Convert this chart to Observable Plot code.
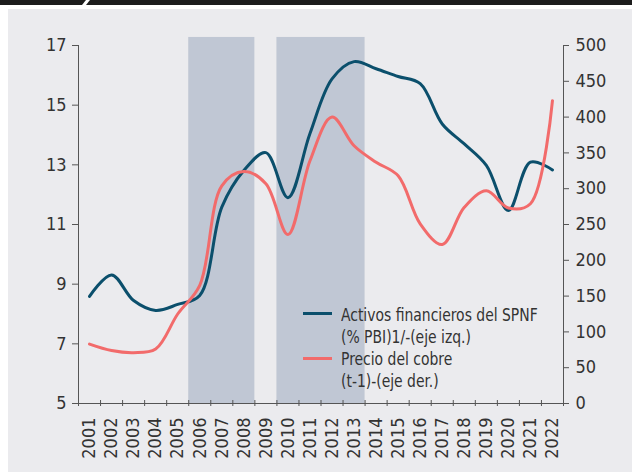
<!DOCTYPE html>
<html><head><meta charset="utf-8">
<script src="https://cdn.jsdelivr.net/npm/d3@7"></script>
<script src="https://cdn.jsdelivr.net/npm/@observablehq/plot@0.6"></script>
<style>
body{margin:0;background:#fff;width:632px;height:472px;overflow:hidden;position:relative;font-family:"Liberation Sans Narrow","DejaVu Sans Condensed","Roboto",sans-serif;}
.blk{position:absolute;top:0;height:5px;background:#1c1c1c}
#barL{left:0;width:86px;clip-path:polygon(0 0,86px 0,82px 5px,0 5px)}
#barR{left:86px;width:546px;clip-path:polygon(4px 0,100% 0,100% 100%,0 100%)}
#panel{position:absolute;left:8px;top:9px;width:624px;height:463px;background:#ebebee}
.sw{position:absolute;left:303px;width:29px;height:3px;z-index:2}
.lt{position:absolute;left:341px;font-size:18px;line-height:22px;color:#333;white-space:nowrap;z-index:2;transform:scaleX(0.86);transform-origin:0 0}
</style></head>
<body>
<div id="barL" class="blk"></div><div id="barR" class="blk"></div>
<div id="panel"></div>
<div class="sw" style="top:312px;background:#0b4f6c"></div>
<div class="lt" style="top:304px">Activos financieros del SPNF<br>(% PBI)1/-(eje izq.)</div>
<div class="sw" style="top:357px;background:#f26b6b"></div>
<div class="lt" style="top:348px">Precio del cobre<br>(t-1)-(eje der.)</div>
<script>
const years = [2001,2002,2003,2004,2005,2006,2007,2008,2009,2010,2011,2012,2013,2014,2015,2016,2017,2018,2019,2020,2021,2022];
const activos = [8.59,9.31,8.45,8.12,8.32,8.62,11.58,12.81,13.41,11.9,14.05,15.88,16.46,16.22,15.96,15.72,14.37,13.7,12.98,11.47,13.09,12.83];
const cobre = [83,74,71,76,125,165,304,324,307,236,339,400,360,337,318,251,222,274,297,273,279,423];
const shaded = [[2006,2008],[2010,2013]];
const shadeTop = 17.27;
const leftTicks = [5,7,9,11,13,15,17];
const rightTicks = [0,50,100,150,200,250,300,350,400,450,500];
const leftMin = 5, leftMax = 17, rightMax = 500;
const toLeft = v => leftMin + v * (leftMax - leftMin) / rightMax;
const table = years.map((y,i)=>({year:y, activos:activos[i], cobre:cobre[i]}));
const edges = d3.range(years[0]-0.5, years[years.length-1]+1, 1);

const chart = Plot.plot({
  width:624, height:463,
  marginLeft:70, marginRight:69, marginTop:36, marginBottom:69,
  style:{background:"transparent", fontSize:"18px", color:"#333", fontFamily:'"Liberation Sans Narrow","DejaVu Sans Condensed",sans-serif'},
  x:{domain:[years[0]-0.5, years[years.length-1]+0.5]},
  y:{domain:[leftMin,leftMax]},
  marks:[
    Plot.rect(shaded,{x1:d=>d[0]-0.5, x2:d=>d[1]+0.5, y1:leftMin, y2:shadeTop, fill:"#c0c7d4"}),
    Plot.ruleX([edges[0], edges[edges.length-1]],{stroke:"#555"}),
    Plot.ruleY([leftMin],{stroke:"#555"}),
    Plot.ruleX(edges,{y1:leftMin, y2:leftMin, insetTop:-3, insetBottom:-3, stroke:"#555"}),
    Plot.line(table,{x:"year", y:"activos", curve:"catmull-rom", stroke:"#0b4f6c", strokeWidth:3}),
    Plot.line(table,{x:"year", y:d=>toLeft(d.cobre), curve:"catmull-rom", stroke:"#f26b6b", strokeWidth:3}),
    Plot.axisY({anchor:"left", ticks:leftTicks, tickSize:6, tickPadding:6, label:null, stroke:"#555"}),
    Plot.axisY({anchor:"right", ticks:rightTicks.map(toLeft), tickFormat:t=>String(Math.round((t-leftMin)*rightMax/(leftMax-leftMin))), tickSize:5, tickPadding:7, label:null, stroke:"#555"}),
    Plot.axisX({ticks:years, tickFormat:d=>String(d), tickRotate:-90, tickSize:0, tickPadding:14, label:null})
  ]
});
chart.style.position="absolute"; chart.style.left="8px"; chart.style.top="9px";
document.body.appendChild(chart);
</script>
</body></html>
